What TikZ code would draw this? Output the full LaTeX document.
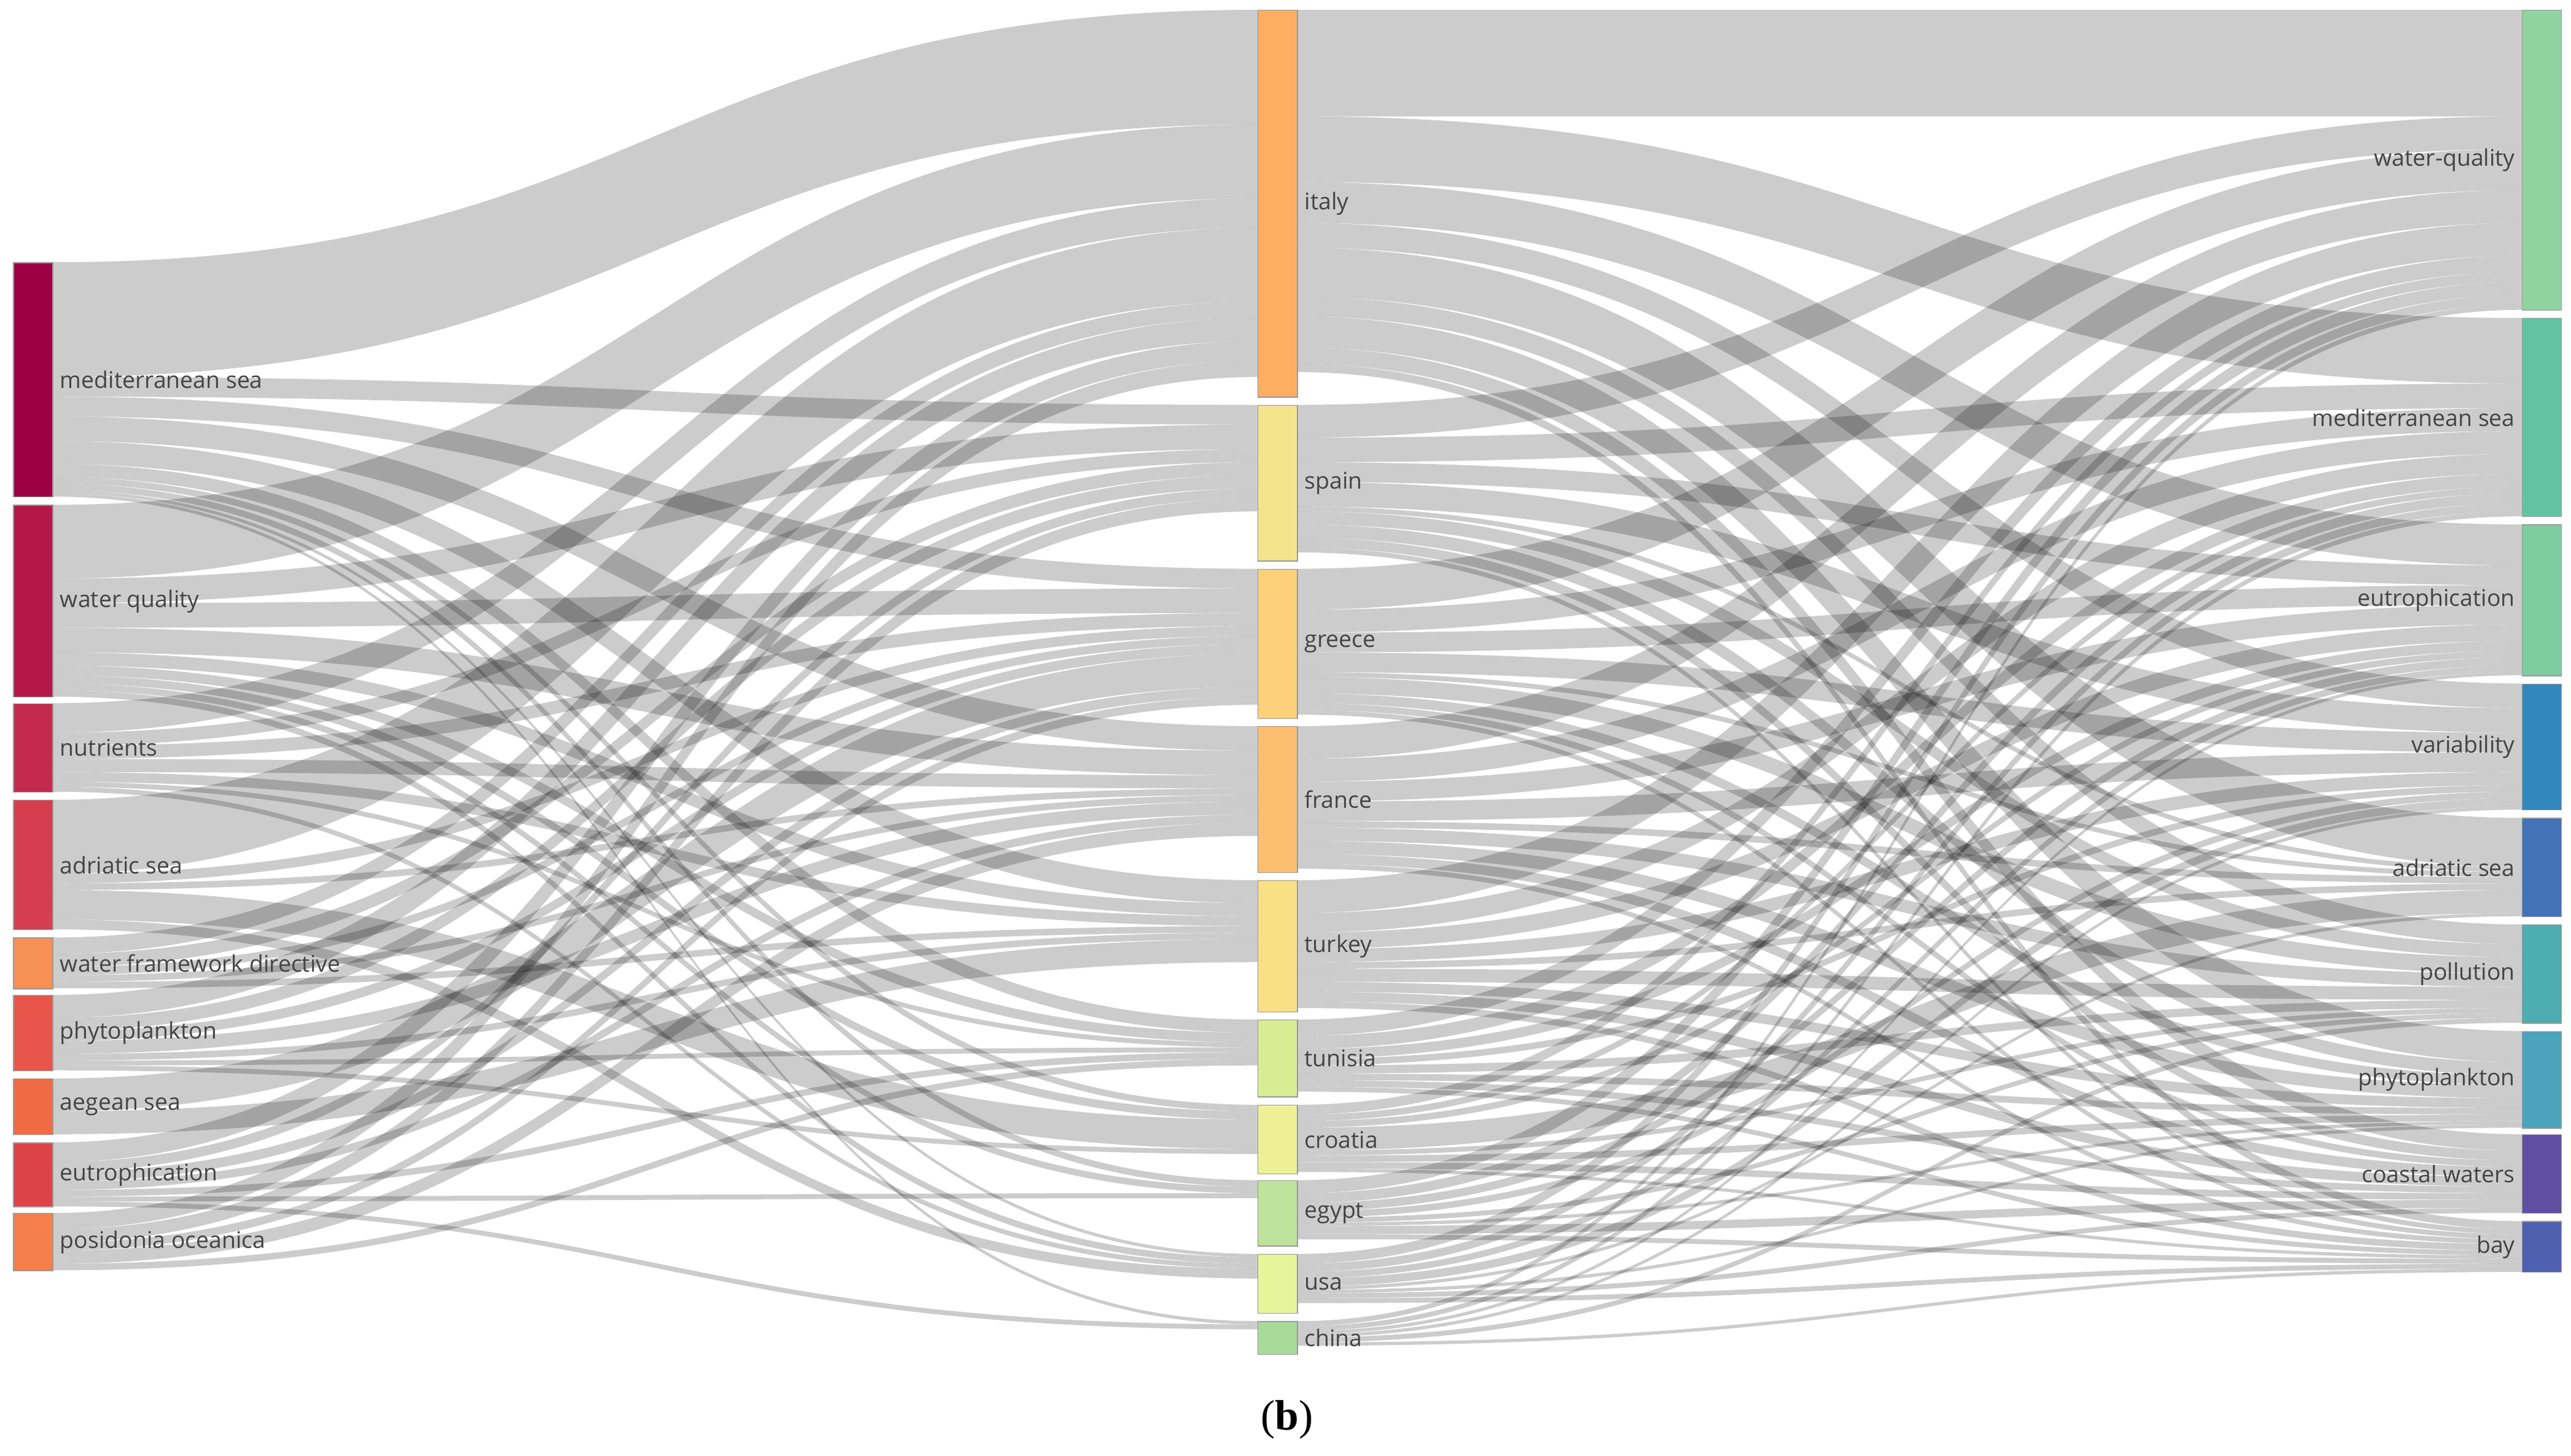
\documentclass[tikz,border=0pt]{standalone}
\usepackage{fontspec}
\setmainfont{Liberation Serif}
\newfontfamily\labfont{Open Sans}
\usetikzlibrary{backgrounds}
\definecolor{lc1}{HTML}{9E0142}\definecolor{lc2}{HTML}{B5174A}\definecolor{lc3}{HTML}{C42A4E}
\definecolor{lc4}{HTML}{D53E4F}\definecolor{lc5}{HTML}{F79055}\definecolor{lc6}{HTML}{E8554B}
\definecolor{lc7}{HTML}{F06A43}\definecolor{lc8}{HTML}{DD4248}\definecolor{lc9}{HTML}{F67E4B}
\definecolor{mc1}{HTML}{FDAE61}\definecolor{mc2}{HTML}{F3E48B}\definecolor{mc3}{HTML}{FDD07A}
\definecolor{mc4}{HTML}{FDBF6F}\definecolor{mc5}{HTML}{FAE085}\definecolor{mc6}{HTML}{D8EC94}
\definecolor{mc7}{HTML}{EDF095}\definecolor{mc8}{HTML}{BEE39B}\definecolor{mc9}{HTML}{E6F59A}
\definecolor{mc10}{HTML}{A8DB9A}
\definecolor{rc1}{HTML}{8ED3A0}\definecolor{rc2}{HTML}{62C3A3}\definecolor{rc3}{HTML}{7ECDA0}
\definecolor{rc4}{HTML}{3288BD}\definecolor{rc5}{HTML}{4272B7}\definecolor{rc6}{HTML}{4EADB0}
\definecolor{rc7}{HTML}{4CA4BC}\definecolor{rc8}{HTML}{5E4FA2}\definecolor{rc9}{HTML}{5060B0}
\definecolor{labc}{HTML}{444444}
\tikzset{
 box/.style={draw=black!40,line width=0.5pt,inner sep=0pt,minimum width=24pt,anchor=north west},
 lab/.style={font=\labfont\fontsize{14}{16}\selectfont,text=labc,inner sep=0pt},
 flow/.style={fill=black,fill opacity=0.2}
}
\newcommand\storenode[3]{%
 \expandafter\xdef\csname xl@#1\endcsname{#2}%
 \pgfmathsetmacro\tmpx{#2+24}\expandafter\xdef\csname xr@#1\endcsname{\tmpx}%
 \expandafter\xdef\csname oo@#1\endcsname{#3}%
 \expandafter\xdef\csname io@#1\endcsname{#3}}
\newcommand\defnode[6]{\storenode{#1}{#2}{#3}%
 \pgfmathsetmacro\hh{#4-#3}%
 \node[box,fill=#5,minimum height=\hh pt] (#1) at (#2,-#3) {};
 \node[lab,anchor=west,xshift=4pt] (#1-l) at (#1.east) {#6};}
\newcommand\defnodeR[6]{\storenode{#1}{#2}{#3}%
 \pgfmathsetmacro\hh{#4-#3}%
 \node[box,fill=#5,minimum height=\hh pt] (#1) at (#2,-#3) {};
 \node[lab,anchor=east,xshift=-4pt] (#1-l) at (#1.west) {#6};}
\newcommand\lnk[3]{%
 \pgfmathsetmacro\ya{\csname oo@#1\endcsname}%
 \pgfmathsetmacro\yb{\csname io@#2\endcsname}%
 \pgfmathsetmacro\xa{\csname xr@#1\endcsname}%
 \pgfmathsetmacro\xb{\csname xl@#2\endcsname}%
 \pgfmathsetmacro\xm{(\xa+\xb)/2}%
 \pgfmathsetmacro\yc{\ya+#3}\pgfmathsetmacro\yd{\yb+#3}%
 \fill[flow] (\xa,-\ya) .. controls (\xm,-\ya) and (\xm,-\yb) .. (\xb,-\yb) -- (\xb,-\yd) .. controls (\xm,-\yd) and (\xm,-\yc) .. (\xa,-\yc) -- cycle;
 \expandafter\xdef\csname oo@#1\endcsname{\yc}%
 \expandafter\xdef\csname io@#2\endcsname{\yd}}
\begin{document}
\begin{tikzpicture}[x=1pt,y=1pt]
\useasboundingbox (0,0) rectangle (1568,-888);
\defnode{L1}{8}{160}{303}{lc1}{mediterranean sea}
\defnode{L2}{8}{308}{425}{lc2}{water quality}
\defnode{L3}{8}{429}{483}{lc3}{nutrients}
\defnode{L4}{8}{488}{567}{lc4}{adriatic sea}
\defnode{L5}{8}{572}{603}{lc5}{water framework directive}
\defnode{L6}{8}{607}{653}{lc6}{phytoplankton}
\defnode{L7}{8}{658}{692}{lc7}{aegean sea}
\defnode{L8}{8}{697}{736}{lc8}{eutrophication}
\defnode{L9}{8}{740}{775}{lc9}{posidonia oceanica}
\defnode{M1}{767}{6}{242}{mc1}{italy}
\defnode{M2}{767}{247}{342}{mc2}{spain}
\defnode{M3}{767}{347}{438}{mc3}{greece}
\defnode{M4}{767}{443}{532}{mc4}{france}
\defnode{M5}{767}{537}{617}{mc5}{turkey}
\defnode{M6}{767}{622}{669}{mc6}{tunisia}
\defnode{M7}{767}{674}{716}{mc7}{croatia}
\defnode{M8}{767}{720}{760}{mc8}{egypt}
\defnode{M9}{767}{765}{801}{mc9}{usa}
\defnode{M10}{767}{806}{826}{mc10}{china}
\defnodeR{R1}{1538}{6}{189}{rc1}{water-quality}
\defnodeR{R2}{1538}{194}{315}{rc2}{mediterranean sea}
\defnodeR{R3}{1538}{320}{412}{rc3}{eutrophication}
\defnodeR{R4}{1538}{417}{494}{rc4}{variability}
\defnodeR{R5}{1538}{499}{559}{rc5}{adriatic sea}
\defnodeR{R6}{1538}{564}{624}{rc6}{pollution}
\defnodeR{R7}{1538}{629}{688}{rc7}{phytoplankton}
\defnodeR{R8}{1538}{692}{740}{rc8}{coastal waters}
\defnodeR{R9}{1538}{745}{776}{rc9}{bay}
\begin{pgfonlayer}{background}
% left -> middle
\lnk{L1}{M1}{70}\lnk{L1}{M2}{12}\lnk{L1}{M3}{12}\lnk{L1}{M4}{15}\lnk{L1}{M5}{14}\lnk{L1}{M6}{8}\lnk{L1}{M7}{4}\lnk{L1}{M8}{4}\lnk{L1}{M9}{2}\lnk{L1}{M10}{2}
\lnk{L2}{M1}{45}\lnk{L2}{M2}{15}\lnk{L2}{M3}{15}\lnk{L2}{M4}{15}\lnk{L2}{M5}{8}\lnk{L2}{M6}{6}\lnk{L2}{M7}{5}\lnk{L2}{M8}{4}\lnk{L2}{M9}{4}
\lnk{L3}{M1}{18}\lnk{L3}{M2}{8}\lnk{L3}{M3}{8}\lnk{L3}{M4}{8}\lnk{L3}{M5}{6}\lnk{L3}{M6}{3}\lnk{L3}{M9}{3}
\lnk{L4}{M1}{45}\lnk{L4}{M3}{6}\lnk{L4}{M4}{4}\lnk{L4}{M7}{18}\lnk{L4}{M9}{6}
\lnk{L5}{M1}{10}\lnk{L5}{M2}{8}\lnk{L5}{M3}{5}\lnk{L5}{M4}{4}\lnk{L5}{M5}{4}
\lnk{L6}{M1}{14}\lnk{L6}{M2}{8}\lnk{L6}{M3}{6}\lnk{L6}{M4}{8}\lnk{L6}{M5}{4}\lnk{L6}{M6}{3}\lnk{L6}{M7}{3}
\lnk{L7}{M3}{20}\lnk{L7}{M5}{14}
\lnk{L8}{M1}{12}\lnk{L8}{M2}{6}\lnk{L8}{M3}{6}\lnk{L8}{M4}{5}\lnk{L8}{M6}{4}\lnk{L8}{M8}{3}\lnk{L8}{M10}{3}
\lnk{L9}{M1}{10}\lnk{L9}{M2}{8}\lnk{L9}{M3}{5}\lnk{L9}{M4}{8}\lnk{L9}{M6}{4}
% middle -> right
\lnk{M1}{R1}{65}\lnk{M1}{R2}{40}\lnk{M1}{R3}{25}\lnk{M1}{R4}{15}\lnk{M1}{R5}{30}\lnk{M1}{R6}{12}\lnk{M1}{R7}{19}\lnk{M1}{R8}{10}\lnk{M1}{R9}{5}
\lnk{M2}{R1}{20}\lnk{M2}{R2}{15}\lnk{M2}{R3}{12}\lnk{M2}{R4}{15}\lnk{M2}{R5}{3}\lnk{M2}{R6}{8}\lnk{M2}{R7}{8}\lnk{M2}{R8}{6}\lnk{M2}{R9}{3}
\lnk{M3}{R1}{25}\lnk{M3}{R2}{14}\lnk{M3}{R3}{12}\lnk{M3}{R4}{12}\lnk{M3}{R5}{3}\lnk{M3}{R6}{10}\lnk{M3}{R7}{6}\lnk{M3}{R8}{4}\lnk{M3}{R9}{3}
\lnk{M4}{R1}{20}\lnk{M4}{R2}{14}\lnk{M4}{R3}{12}\lnk{M4}{R4}{12}\lnk{M4}{R5}{4}\lnk{M4}{R6}{8}\lnk{M4}{R7}{8}\lnk{M4}{R8}{6}\lnk{M4}{R9}{3}
\lnk{M5}{R1}{20}\lnk{M5}{R2}{12}\lnk{M5}{R3}{10}\lnk{M5}{R4}{8}\lnk{M5}{R5}{4}\lnk{M5}{R6}{8}\lnk{M5}{R7}{6}\lnk{M5}{R8}{6}\lnk{M5}{R9}{4}
\lnk{M6}{R1}{10}\lnk{M6}{R2}{8}\lnk{M6}{R3}{6}\lnk{M6}{R4}{4}\lnk{M6}{R6}{5}\lnk{M6}{R7}{4}\lnk{M6}{R8}{4}\lnk{M6}{R9}{3}
\lnk{M7}{R1}{6}\lnk{M7}{R2}{4}\lnk{M7}{R3}{4}\lnk{M7}{R5}{14}\lnk{M7}{R6}{3}\lnk{M7}{R7}{4}\lnk{M7}{R8}{4}\lnk{M7}{R9}{2}
\lnk{M8}{R1}{8}\lnk{M8}{R2}{6}\lnk{M8}{R3}{5}\lnk{M8}{R4}{4}\lnk{M8}{R6}{3}\lnk{M8}{R7}{2}\lnk{M8}{R8}{5}\lnk{M8}{R9}{3}
\lnk{M9}{R1}{6}\lnk{M9}{R2}{5}\lnk{M9}{R3}{4}\lnk{M9}{R4}{5}\lnk{M9}{R5}{2}\lnk{M9}{R7}{2}\lnk{M9}{R8}{3}\lnk{M9}{R9}{3}
\lnk{M10}{R1}{3}\lnk{M10}{R2}{3}\lnk{M10}{R3}{2}\lnk{M10}{R4}{2}\lnk{M10}{R6}{3}\lnk{M10}{R9}{2}
\end{pgfonlayer}
\node[font=\fontsize{26}{30}\selectfont] (cap) at (785,-866) {(\textbf{b})};
\end{tikzpicture}
\end{document}
